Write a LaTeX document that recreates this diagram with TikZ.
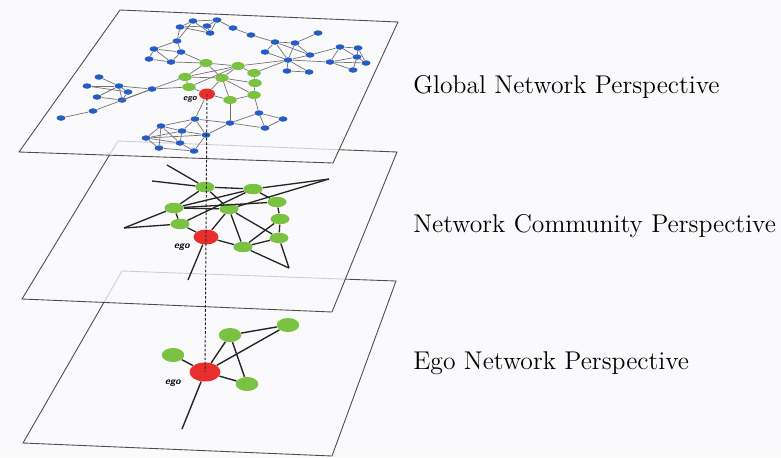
\documentclass[tikz,border=0pt]{standalone}
\usepackage{tikz}
\usetikzlibrary{shapes.geometric}

\definecolor{paper}{RGB}{250,250,252}
\definecolor{netblue}{RGB}{38,92,196}
\definecolor{netgreen}{RGB}{122,194,66}
\definecolor{netred}{RGB}{234,45,45}

\tikzset{
  plane/.style={draw=black!70, line width=0.5pt, fill=paper, fill opacity=0.75},
  topblue/.style={ellipse, fill=netblue, inner sep=0pt, minimum width=0.18cm, minimum height=0.11cm},
  topgreen/.style={ellipse, fill=netgreen, inner sep=0pt, minimum width=0.27cm, minimum height=0.16cm},
  topego/.style={ellipse, fill=netred, inner sep=0pt, minimum width=0.32cm, minimum height=0.22cm},
  midgreen/.style={ellipse, fill=netgreen, inner sep=0pt, minimum width=0.38cm, minimum height=0.21cm},
  midego/.style={ellipse, fill=netred, inner sep=0pt, minimum width=0.5cm, minimum height=0.3cm},
  lowgreen/.style={ellipse, fill=netgreen, inner sep=0pt, minimum width=0.45cm, minimum height=0.28cm},
  lowego/.style={ellipse, fill=netred, inner sep=0pt, minimum width=0.62cm, minimum height=0.38cm},
  topedge/.style={draw=black!55, line width=0.4pt},
  netedge/.style={draw=black!85, line width=0.75pt},
  egotext/.style={font=\sffamily\bfseries\itshape\fontsize{5.5}{6}\selectfont, inner sep=0pt},
  layertext/.style={font=\fontsize{14.6}{17}\selectfont, anchor=base west, inner sep=0pt}
}

\begin{document}
\begin{tikzpicture}[x=0.02cm, y=-0.02cm]
		%%%%% START %%%%%
		
		\fill[paper] (0,0) rectangle (781,457);
		\useasboundingbox (0,0) rectangle (781,457);
		
		% ego layer
		\filldraw[plane] (122,271) -- (396,281) -- (332,456) -- (23,443) -- cycle;
		
		\node[lowego] (e3) at (205,372) {};
		\node[lowgreen] (n1) at (173,355) {};
		\node[lowgreen] (n2) at (230,335) {};
		\node[lowgreen] (n3) at (288,325) {};
		\node[lowgreen] (n4) at (247,384) {};
		\coordinate (r1) at (182,429);
		
		\foreach \a/\b in {e3/n1, e3/n2, e3/n3, e3/n4, n2/n3, n2/n4, e3/r1}
			\draw[netedge, line width=0.8pt] (\a) -- (\b);
		
		\node[egotext] (l3) at (173,383) {ego};
		
		% community layer
		\filldraw[plane] (118,141) -- (397,152) -- (332,312) -- (22,299) -- cycle;
		
		\node[midego] (e2) at (206,237) {};
		\node[midgreen] (m1) at (205,187) {};
		\node[midgreen] (m2) at (253,189) {};
		\node[midgreen] (m3) at (174,208) {};
		\node[midgreen] (m4) at (229,209) {};
		\node[midgreen] (m5) at (277,202) {};
		\node[midgreen] (m6) at (180,224) {};
		\node[midgreen] (m7) at (280,219) {};
		\node[midgreen] (m8) at (279,238) {};
		\node[midgreen] (m9) at (243,247) {};
		\coordinate (q1) at (167,165);
		\coordinate (q2) at (152,181);
		\coordinate (q3) at (329,179);
		\coordinate (q4) at (124,228);
		\coordinate (q5) at (289,268);
		\coordinate (q6) at (188,280);
		
		\foreach \a/\b in {q1/m1, q2/m1, m1/m2, m1/m3, m1/m4, m3/m2, m6/m2, m3/m4,
				m3/m6, q4/m3, q4/m6, m6/e2, e2/m4, e2/m9, e2/q6, m2/q3, m4/q3,
				m2/m5, m3/m5, m5/m7, m7/m8, m8/q5, m9/q5, m9/m8, m4/m9, m4/m8, m9/m7}
			\draw[netedge] (\a) -- (\b);
		
		\node[egotext] (l2) at (182,247) {ego};
		
		% global layer
		\filldraw[plane] (120,10) -- (398,22) -- (333,163) -- (19,152) -- cycle;
		
		\node[topego] (e1) at (207,94) {};
		\foreach \n/\x/\y in {G1/206/63, G2/238/66, G3/254/73, G4/185/77, G5/222/78,
				G6/255/83, G7/189/87, G8/254/95, G9/230/100}
			\node[topgreen] (\n) at (\x,\y) {};
		\foreach \n/\x/\y in {t1/193/21, t2/217/20, t3/180/27, t4/207/26, t5/210/33,
				t6/233/28, t7/251/35, t8/318/33, t9/177/41, t10/154/49, t11/181/52,
				t12/149/59, t13/171/62, t14/275/42, t15/295/43, t16/265/52, t17/288/60,
				t18/310/55, t19/340/47, t20/358/48, t21/330/62, t22/357/57, t23/366/63,
				t24/353/70, t25/287/71, t26/309/72, t27/99/77, t28/87/86, t29/119/86,
				t30/128/92, t31/97/97, t32/122/100, t33/152/89, t34/93/111, t35/61/118,
				t36/195/119, t37/230/123, t38/259/113, t39/283/119, t40/265/128,
				t41/161/126, t42/182/131, t43/146/138, t44/206/135, t45/180/143,
				t46/159/148, t47/194/151}
			\node[topblue] (\n) at (\x,\y) {};
		
		\foreach \a/\b in {t1/t2, t1/t3, t1/t5, t2/t4, t2/t5, t2/t6, t3/t4, t3/t5,
				t4/t5, t3/t9, t1/t9, t6/t7, t7/t14, t8/t15, t14/t15, t14/t16, t14/t17,
				t15/t17, t16/t17, t14/t18, t15/t18, t17/t18, t17/t25, t17/t26, t25/t26,
				t17/t21, t18/t19, t19/t20, t19/t22, t19/t21, t20/t22, t21/t22, t21/t23,
				t21/t24, t22/t23, t22/t24, t20/t23,
				t9/t10, t9/t11, t10/t11, t10/t12, t10/t13, t11/t13, t12/t13,
				t11/G1, t13/G1,
				t27/t29, t28/t29, t28/t30, t29/t30, t29/t32, t30/t32, t31/t29, t31/t32,
				t29/t33, t32/t33, t34/t33, t35/t34, t33/G4, t33/G7,
				G1/G2, G1/G4, G1/G5, G2/G5, G2/G3, G4/G5, G4/G7, G4/G2, G5/G6, G5/G9,
				G5/e1, G5/G8, G3/G6, G6/G8, G8/G9, G7/e1, e1/G9, G2/t17, G3/t17, G7/G2,
				e1/t36, G8/t38, G9/t37,
				t36/t41, t36/t42, t36/t44, t36/t37, t37/t38, t37/t40, t38/t39, t38/t40,
				t39/t40, t41/t43, t41/t46, t41/t42, t42/t44, t42/t45, t43/t46, t43/t42,
				t43/t44, t44/t47, t45/t47, t46/t47, t41/t45, t37/t44, t43/t45}
			\draw[topedge] (\a) -- (\b);
		
		\node[egotext, font=\sffamily\bfseries\itshape\fontsize{4.8}{5}\selectfont] (l1) at (190,99) {ego};
		
		% ego through all layers
		\draw[black!85, line width=0.55pt, dash pattern=on 1.5pt off 1pt] (e1.center) -- (e3.center);
		
		% layer names
		\node[layertext] (global) at (413,93) {Global Network Perspective};
		\node[layertext] (community) at (413,232) {Network Community Perspective};
		\node[layertext] (egonet) at (413,369) {Ego Network Perspective};
		
		%%%%% END %%%%%
\end{tikzpicture}
\end{document}
